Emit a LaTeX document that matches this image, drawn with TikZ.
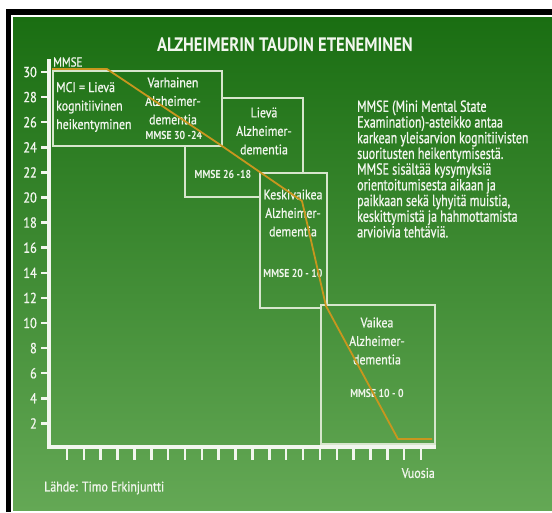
\documentclass[tikz,border=0pt]{standalone}
\usepackage{fontspec}
\setmainfont[FakeStretch=0.85, FakeBold=0.8, BoldFeatures={FakeBold=0}]{PT Sans}
\newfontfamily\Estrecha[FakeStretch=0.75, FakeBold=0.8]{PT Sans}
\usetikzlibrary{positioning}
\definecolor{FondoArriba}{RGB}{26,110,18}
\definecolor{FondoAbajo}{RGB}{100,168,85}
\definecolor{ColorCurva}{RGB}{200,150,30}
\definecolor{ColorBorde}{RGB}{215,230,205}
\definecolor{ColorLetra}{RGB}{242,246,238}
\tikzstyle{Texto}=[text=ColorLetra, inner sep=0pt]
\tikzstyle{Etapa}=[Texto, align=center, font=\fontsize{14}{18.5}\selectfont]
\tikzstyle{Rango}=[Texto, font=\bfseries\fontsize{11.5}{13}\selectfont]
\tikzstyle{Caja}=[draw=ColorBorde, line width=1.3]
\tikzstyle{Eje}=[draw=ColorLetra, line width=4]
\tikzstyle{Marca}=[draw=ColorLetra, line width=2.5]
\tikzstyle{Curva}=[draw=ColorCurva, line width=1.8, line join=round]

\begin{document}
\begin{tikzpicture}[x=1pt,y=-1pt]
	\useasboundingbox (0,0) rectangle (552,512);
	%Marco
	\fill[black] (6,9) rectangle (552,512);
	\fill[white] (11,15) rectangle (552,512);
	\shade[top color=FondoArriba, bottom color=FondoAbajo] (13,17.5) rectangle (552,510);

	%Titulo
	\node[Texto, font=\bfseries\fontsize{19.5}{24}\selectfont] (titulo) at (285,45) {ALZHEIMERIN TAUDIN ETENEMINEN};

	%Ejes
	\coordinate (ytop) at (49,59);
	\coordinate (xend) at (436,447);
	\draw[Eje] (ytop) |- (xend);
	\foreach \v in {2,4,...,30}
		{
		\draw[Marca] (41,{72+(30-\v)*12.55}) -- (49,{72+(30-\v)*12.55});
		\node[Texto, anchor=east, font=\fontsize{14.5}{16}\selectfont] (y\v) at (37,{72+(30-\v)*12.55}) {\v};
		}
	\foreach \i in {0,...,21}
		\draw[Marca] ({67+\i*16.86},449) -- ++(0,11);
	\node[Texto, anchor=west, font=\fontsize{13}{15}\selectfont] (mmse) at (53,62) {MMSE};
	\node[Texto, anchor=east, font=\fontsize{14}{16}\selectfont] (vuosia) at (435,473) {Vuosia};
	\node[Texto, anchor=west, font=\fontsize{14}{16}\selectfont] (lahde) at (44,488) {Lähde: Timo Erkinjuntti};

	%Cajas
	\draw[Caja] (222,98) -- (303,98) -- (303,173);
	\draw[Caja] (260,197) -- (185,197) -- (185,146);
	\draw[Caja] (321,308) -- (260,308) -- (260,173) -- (327,173) -- (327,305);
	\draw[Caja] (53,71) rectangle (222,146);
	\draw[Caja] (321,305) rectangle (435,444);

	%Textos de las cajas
	\node[Etapa, align=left, anchor=west] (mci) at (56,107) {MCI = Lievä\\kognitiivinen\\heikentyminen};
	\node[Etapa] (varhainen) at (173,101) {Varhainen\\Alzheimer-\\dementia};
	\node[Rango] (rango1) at (174,135) {MMSE 30 -24};
	\node[Etapa] (lieva) at (264,131) {Lievä\\Alzheimer-\\dementia};
	\node[Rango] (rango2) at (223,174) {MMSE 26 -18};
	\node[Etapa] (keskivaikea) at (293,213) {Keskivaikea\\Alzheimer-\\dementia};
	\node[Rango] (rango3) at (293,273) {MMSE 20 - 10};
	\node[Etapa] (vaikea) at (377,341) {Vaikea\\Alzheimer-\\dementia};
	\node[Rango] (rango4) at (377,393) {MMSE 10 - 0};

	%Selitys
	\node[Texto, align=left, anchor=west, font=\Estrecha\fontsize{16}{15.7}\selectfont] (selitys) at (357,169)
		{MMSE (Mini Mental State\\Examination)-asteikko antaa\\karkean yleisarvion kognitiivisten\\suoritusten heikentymisestä.\\MMSE sisältää kysymyksiä\\orientoitumisesta aikaan ja\\paikkaan sekä lyhyitä muistia,\\keskittymistä ja hahmottamista\\arvioivia tehtäviä.};

	%Curva
	\coordinate (c0) at (52,69);
	\coordinate (c1) at (107,69);
	\coordinate (c2) at (222,146);
	\coordinate (c3) at (302,201);
	\coordinate (c4) at (326,306);
	\coordinate (c5) at (398,439);
	\coordinate (c6) at (432,439);
	\draw[Curva] (c0) -- (c1) -- (c2) -- (c3) -- (c4) -- (c5) -- (c6);

\end{tikzpicture}
\end{document}
